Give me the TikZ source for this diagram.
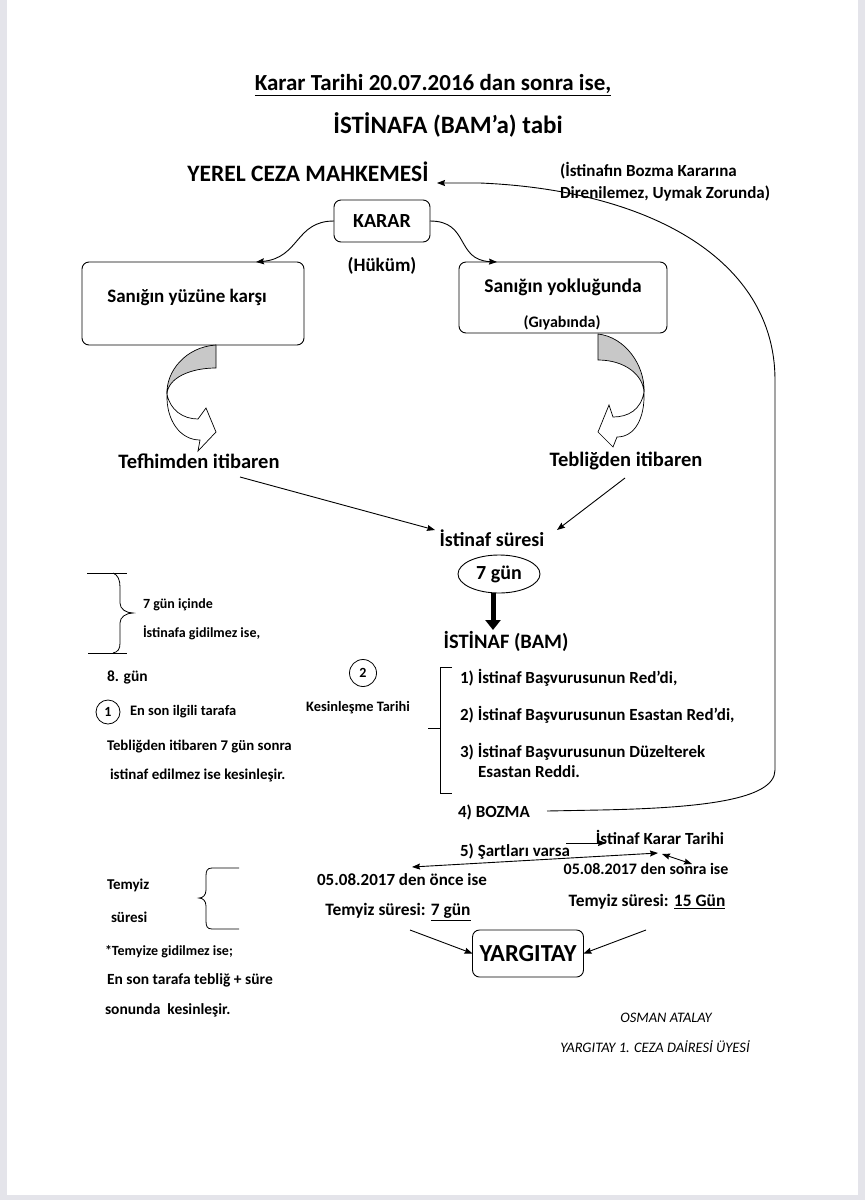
\documentclass[tikz,border=0pt]{standalone}
\usepackage{fontspec}
\setmainfont{Carlito}
\usetikzlibrary{arrows.meta,shapes.geometric,calc}
\definecolor{pageedge}{RGB}{228,228,234}
\definecolor{ribbongray}{RGB}{200,200,200}
\begin{document}
\begin{tikzpicture}[x=1pt,y=-1pt,
  every node/.style={inner sep=0pt,outer sep=0pt},
  fs/.style={font=\fontsize{#1}{#1}\selectfont\bfseries},
  fi/.style={font=\fontsize{#1}{#1}\selectfont\itshape},
  rbox/.style={draw,line width=0.9pt,rounded corners=7pt},
  conn/.style={line width=0.9pt,-{Stealth[length=8pt,width=6pt,inset=1pt]}},
  dconn/.style={line width=0.9pt,{Stealth[length=8pt,width=6pt,inset=1pt]}-{Stealth[length=8pt,width=6pt,inset=1pt]}},
  shp/.style={line width=0.7pt}]
\useasboundingbox (0,0) rectangle (865,1200);
\fill[white] (0,0) rectangle (865,1200);
\fill[pageedge] (0,0) rectangle (7,1200);
\fill[pageedge] (858,0) rectangle (865,1200);
\fill[pageedge] (0,1195) rectangle (865,1200);

% titles
\node[fs=23] (title1) at (433,85) {\underline{Karar Tarihi 20.07.2016 dan sonra ise,}};
\node[fs=25] (title2) at (448,125) {İSTİNAFA (BAM’a) tabi};
\node[fs=23.5] (yerel) at (308,172) {YEREL CEZA MAHKEMESİ};
\node[anchor=west,align=left,font=\fontsize{17}{22}\selectfont\bfseries] (note) at (560,182) {(İstinafın Bozma Kararına\\Direnilemez, Uymak Zorunda)};

% karar
\node[rbox,fs=20,minimum width=96pt,minimum height=42pt] (karar) at (382,221) {KARAR};
\node[fs=19] (hukum) at (382,266) {(Hüküm)};

% boxes
\node[rbox,minimum width=222pt,minimum height=83pt] (leftbox) at (193,303.5) {};
\node[fs=19] (lefttext) at (187,297) {Sanığın yüzüne karşı};
\node[rbox,minimum width=208pt,minimum height=71pt] (rightbox) at (563,297.5) {};
\node[fs=19.5] (righttext) at (563,287) {Sanığın yokluğunda};
\node[fs=16] (gıyab) at (562,323) {(Gıyabında)};

\coordinate (lk) at (256,262);
\coordinate (rk) at (497,262);
\draw[conn] (karar.west) .. controls (295,221) and (300,258) .. (lk);
\draw[conn] (karar.east) .. controls (470,221) and (455,260) .. (rk);

% left curved ribbon arrow
\fill[ribbongray,draw=black,shp] (216,345) -- (216,368) .. controls (190,368) and (168,378) .. (167,394) .. controls (166,372) and (185,347) .. (216,345) -- cycle;
\filldraw[fill=white,draw=black,shp] (167,394) .. controls (170,410) and (183,419) .. (198,419) -- (206,408) -- (216,432) -- (198,451) -- (200,440) .. controls (180,440) and (166,420) .. (167,394) -- cycle;
% right curved ribbon arrow
\fill[ribbongray,draw=black,shp] (598,334) -- (598,360) .. controls (625,360) and (643,375) .. (644,392) .. controls (645,365) and (625,337) .. (598,334) -- cycle;
\filldraw[fill=white,draw=black,shp] (644,392) .. controls (641,410) and (628,417) .. (613,417) -- (609,405) -- (598,432) -- (613,447) -- (617,437) .. controls (635,437) and (645,418) .. (644,392) -- cycle;

\node[fs=20.5] (tefhim) at (199,461) {Tefhimden itibaren};
\node[fs=20.5] (teblig) at (626,461) {Tebliğden itibaren};
\node[fs=20] (sure) at (492,538) {İstinaf süresi};
\coordinate (tefS) at (240,477);
\coordinate (tebS) at (625,478);
\coordinate (sureL) at (435,530);
\coordinate (sureR) at (557,530);
\draw[conn] (tefS) -- (sureL);
\draw[conn] (tebS) -- (sureR);

\node[draw,ellipse,line width=0.9pt,minimum width=82pt,minimum height=38pt,fs=20] (yedi) at (499,574) {7 gün};
\coordinate (bamtop) at (493,630);
\draw[line width=5pt,-{Triangle[length=10pt,width=15pt]}] (yedi.south -| bamtop) -- (bamtop);
\node[fs=20.5] (bam) at (506,641) {İSTİNAF (BAM)};

% bracket
\draw[line width=0.8pt] (452,667) -- (440,667) -- (440,793) -- (452,793);
\draw[line width=0.8pt] (440,728) -- (428,728);
\node[fs=17,anchor=west] (i1) at (460,678) {1) İstinaf Başvurusunun Red’di,};
\node[fs=17,anchor=west] (i2) at (460,715) {2) İstinaf Başvurusunun Esastan Red’di,};
\node[fs=17,anchor=west] (i3) at (460,752) {3) İstinaf Başvurusunun Düzelterek};
\node[fs=17,anchor=west] (i3b) at (478,772) {Esastan Reddi.};
\node[fs=17,anchor=west] (bozma) at (458,812) {4) BOZMA};

\coordinate (bozS) at (547,811);
\coordinate (yerelIn) at (437,183);
\draw[conn] (bozS) -- (600,810) .. controls (700,808) and (775,800) .. (775,770) -- (775,380)
   .. controls (775,260) and (650,190) .. (480,183) -- (yerelIn);

% dates
\node[fs=17,anchor=west] (sart) at (460,852) {5) Şartları varsa};
\node[fs=17] (kararT) at (660,837) {İstinaf Karar Tarihi};
\coordinate (sA) at (566,843);
\coordinate (sB) at (606,843);
\draw[conn] (sA) -- (sB);
\coordinate (dL) at (412,867);
\coordinate (dM) at (658,853);
\coordinate (dM2) at (662,854);
\coordinate (dR) at (692,864);
\draw[dconn] (dL) -- (dM);
\draw[dconn] (dM2) -- (dR);
\node[fs=17] (once) at (402,880) {05.08.2017 den önce ise};
\node[fs=16] (sonra) at (646,869) {05.08.2017 den sonra ise};
\node[fs=17.4] (t7) at (398,912) {Temyiz süresi: \underline{7 gün}};
\node[fs=17.4] (t15) at (647,902) {Temyiz süresi: \underline{15 Gün}};

\node[rbox,fs=24.5,minimum width=111pt,minimum height=47pt] (yarg) at (528,953.5) {YARGITAY};
\coordinate (t7S) at (410,930);
\coordinate (t15S) at (646,930);
\draw[conn] (t7S) -- (yarg.west);
\draw[conn] (t15S) -- (yarg.east);

% left middle brace
\draw[line width=0.8pt] (87,573) -- (127,573);
\draw[line width=0.8pt] (88,653) -- (127,653);
\draw[line width=0.8pt] (113,573) .. controls (118,575) and (120,580) .. (120,587) -- (120,603) .. controls (120,609) and (126,613) .. (133,613) .. controls (126,613) and (120,617) .. (120,623) -- (120,643) .. controls (120,649) and (118,652) .. (113,653);
\node[fs=14,anchor=west] (g7) at (143,605) {7 gün içinde};
\node[fs=14,anchor=west] (gid) at (143,633) {İstinafa gidilmez ise,};
\node[fs=15.5,anchor=west] (g8) at (107,677) {8. gün};
\node[draw,circle,line width=0.8pt,minimum size=24pt,fs=14] (c1) at (108,712) {1};
\node[fs=14.5,anchor=west] (enson) at (130,712) {En son ilgili tarafa};
\node[fs=14.8,anchor=west] (tebl7) at (107,747) {Tebliğden itibaren 7 gün sonra};
\node[fs=15,anchor=west] (kes) at (110,775) {istinaf edilmez ise kesinleşir.};
\node[draw,circle,line width=0.8pt,minimum size=27pt,fs=14] (c2) at (363,673) {2};
\node[fs=14.4] (kesT) at (358,708) {Kesinleşme Tarihi};

% temyiz brace
\draw[line width=0.8pt] (239,868) -- (212,868) .. controls (207,868) and (206,871) .. (206,876) -- (206,890) .. controls (206,895) and (203,898) .. (199,898) .. controls (203,898) and (206,901) .. (206,906) -- (206,921) .. controls (206,926) and (207,929) .. (212,929) -- (239,929);
\node[fs=15,anchor=west] (tz1) at (107,885) {Temyiz};
\node[fs=15,anchor=west] (tz2) at (111,917) {süresi};
\node[fs=14,anchor=west] (tz3) at (105,952) {*Temyize gidilmez ise;};
\node[fs=15.5,anchor=west] (tz4) at (107,980) {En son tarafa tebliğ + süre};
\node[fs=15.5,anchor=west] (tz5) at (105,1010) {sonunda\ \ kesinleşir.};

\node[fi=14.5] (osman) at (666,1018) {OSMAN ATALAY};
\node[fi=14.5] (uye) at (655,1047) {YARGITAY 1. CEZA DAİRESİ ÜYESİ};
\end{tikzpicture}
\end{document}
